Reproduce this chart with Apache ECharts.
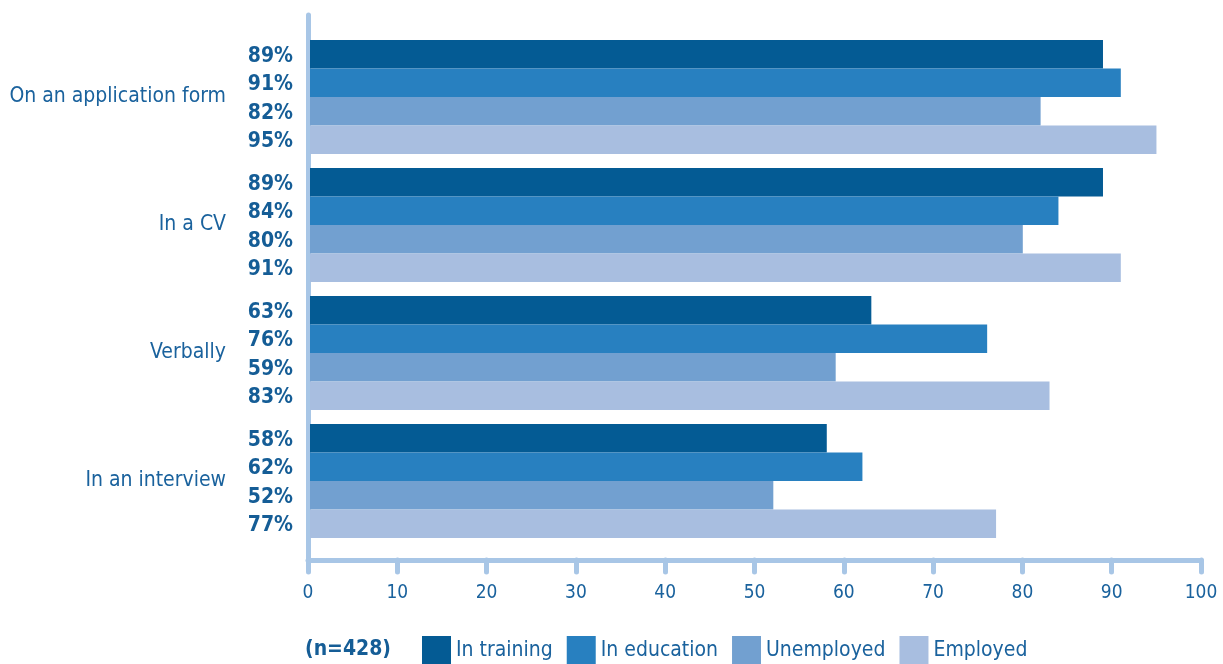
<!DOCTYPE html>
<html>
<head>
<meta charset="utf-8">
<script src="https://cdn.jsdelivr.net/npm/echarts@6/dist/echarts.min.js"></script>
<style>
  html, body { margin: 0; padding: 0; background: #fff; }
  #chart { width: 1223px; height: 664px; }
</style>
</head>
<body>
<div id="chart"></div>
<script>
// data
var categories = ['On an application form', 'In a CV', 'Verbally', 'In an interview'];
var seriesNames = ['In training', 'In education', 'Unemployed', 'Employed'];
var inTraining = [89, 89, 63, 58];
var inEducation = [91, 84, 76, 62];
var unemployed = [82, 80, 59, 52];
var employed = [95, 91, 83, 77];
var sampleNote = '(n=428)';

var colors = ['#045b94', '#2880c0', '#72a0d0', '#a8bee0'];
var textBlue = '#1a629d';
var axisBlue = '#a8c6e6';
var font = "'Liberation Sans Narrow', 'DejaVu Sans Condensed', sans-serif";

var values = [inTraining, inEducation, unemployed, employed];

var series = seriesNames.map(function (name, i) {
  return {
    name: name,
    type: 'bar',
    xAxisIndex: 0,
    yAxisIndex: 0,
    data: values[i],
    barGap: '0%',
    barCategoryGap: '11%',
    itemStyle: { color: colors[i] },
    label: {
      show: true,
      position: 'left',
      distance: 17,
      offset: [0, 2],
      formatter: '{c}%',
      fontFamily: font,
      fontWeight: 'bold',
      fontSize: 21,
      color: '#155d96'
    },
    emphasis: { disabled: true }
  };
});

var chart = echarts.init(document.getElementById('chart'));
chart.setOption({
  animation: false,
  color: colors,
  title: {
    text: sampleNote,
    left: 305,
    top: 639,
    padding: 0,
    textStyle: { fontFamily: font, fontWeight: 'bold', fontSize: 21, color: '#155d96' }
  },
  legend: {
    data: seriesNames,
    left: 422,
    top: 636,
    padding: 0,
    icon: 'rect',
    itemWidth: 29,
    itemHeight: 29,
    itemGap: 14,
    textStyle: { fontFamily: font, fontSize: 21, color: textBlue }
  },
  grid: [
    { left: 310, right: 22, top: 33, height: 512, outerBoundsMode: 'none' },
    { left: 308, right: 22, top: 15, bottom: 104, outerBoundsMode: 'none' }
  ],
  xAxis: [
    { gridIndex: 0, type: 'value', min: 0, max: 100, show: false },
    {
      gridIndex: 1, type: 'value', min: 0, max: 100, interval: 10,
      axisLine: { show: true, lineStyle: { color: axisBlue, width: 5, cap: 'round' } },
      axisTick: { show: true, length: 12, lineStyle: { color: axisBlue, width: 5, cap: 'round' } },
      axisLabel: { margin: 24, fontFamily: font, fontSize: 19, color: textBlue },
      splitLine: { show: false }
    }
  ],
  yAxis: [
    {
      gridIndex: 0, type: 'category', data: categories, inverse: true,
      axisLine: { show: false },
      axisTick: { show: false },
      axisLabel: { margin: 84, fontFamily: font, fontSize: 21, color: textBlue }
    },
    {
      gridIndex: 1, type: 'value', min: 0, max: 1, offset: 1,
      axisLine: { show: true, lineStyle: { color: axisBlue, width: 5, cap: 'round' } },
      axisTick: { show: false },
      axisLabel: { show: false },
      splitLine: { show: false }
    }
  ],
  series: series
});
</script>
</body>
</html>
